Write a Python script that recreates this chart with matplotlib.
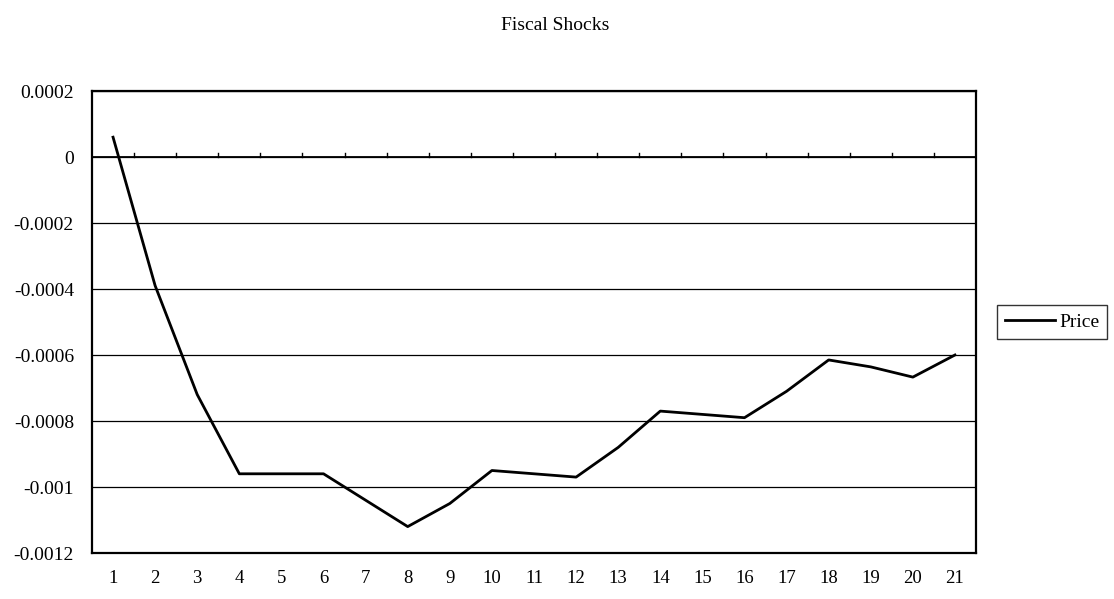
import matplotlib
matplotlib.use("Agg")
import matplotlib.pyplot as plt
import numpy as np

# Impulse response of price to a fiscal shock, periods 1..21
periods = list(range(1, 22))
price = [0.00006, -0.00039, -0.00072, -0.00096, -0.00096, -0.00096, -0.00104,
         -0.00112, -0.00105, -0.00095, -0.00096, -0.00097, -0.00088, -0.00077,
         -0.00078, -0.00079, -0.00071, -0.000615, -0.000636, -0.000667, -0.0006]
y_ticks = [0.0002, 0, -0.0002, -0.0004, -0.0006, -0.0008, -0.001, -0.0012]
y_labels = ["0.0002", "0", "-0.0002", "-0.0004", "-0.0006", "-0.0008", "-0.001", "-0.0012"]

plt.rcParams["font.family"] = ["Liberation Serif", "DejaVu Serif"]

W, H = 1114, 599
fig = plt.figure(figsize=(W / 100, H / 100), dpi=100)
ax = fig.add_axes([92 / W, 1 - 553 / H, 884 / W, 462 / H])

x = np.arange(len(periods))
ax.plot(x, price, color="black", lw=2.0, label="Price", zorder=3)

ax.set_xlim(-0.5, len(periods) - 0.5)
ax.set_ylim(-0.0012, 0.0002)
ax.set_yticks(y_ticks)
ax.set_yticklabels(y_labels, fontsize=14)
ax.set_xticks(x)
ax.set_xticklabels([str(p) for p in periods], fontsize=13.5)
ax.tick_params(axis="y", length=0, pad=13)
ax.tick_params(axis="x", length=0, pad=12)

for v in y_ticks:
    ax.axhline(v, color="black", lw=0.9, zorder=1)
ax.axhline(0, color="black", lw=1.3, zorder=2)

# category boundary ticks on the zero line
for b in np.arange(0.5, len(periods) - 0.5, 1.0):
    ax.plot([b, b], [0, 0.000013], color="black", lw=1.0, zorder=2)

for s in ax.spines.values():
    s.set_linewidth(1.6)
    s.set_color("black")

fig.text(555 / W, 1 - 25 / H, "Fiscal Shocks", ha="center", va="center", fontsize=14)

leg = fig.legend(loc="center left", bbox_to_anchor=(997 / W, 1 - 322 / H),
                 fontsize=14, frameon=True, fancybox=False, edgecolor="black",
                 handlelength=2.6, handletextpad=0.2, borderpad=0.4,
                 borderaxespad=0)
leg.get_frame().set_linewidth(1.0)
leg.get_lines()[0].set_linewidth(2.0)

fig.savefig("out.png", dpi=100)
